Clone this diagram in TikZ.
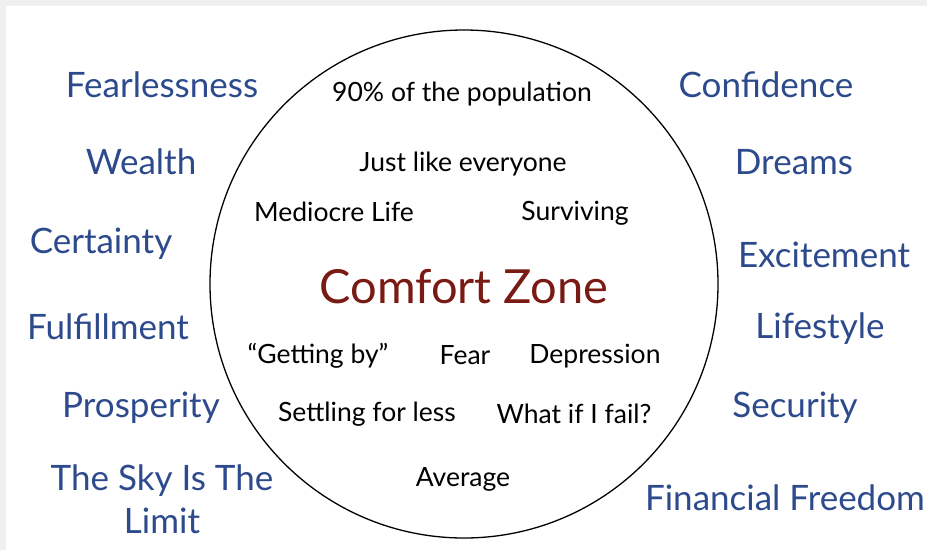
\documentclass[tikz,border=0pt]{standalone}
\usepackage{fontspec}
\setmainfont{Lato}
\definecolor{zoneblue}{HTML}{2D4A8C}
\definecolor{zonered}{HTML}{7A1A14}
\definecolor{edgegray}{HTML}{EFEFEF}
\tikzset{
    goal/.style={text=zoneblue, font=\fontsize{35}{43}\selectfont, align=center, inner sep=0pt},
    habit/.style={text=black, font=\fontsize{26.5}{30}\selectfont, inner sep=0pt},
    zonetitle/.style={text=zonered, font=\fontsize{47}{50}\selectfont, inner sep=0pt}
}
\begin{document}
\begin{tikzpicture}[x=1pt, y=-1pt]
    \useasboundingbox (0,0) rectangle (927,550);
    \fill[edgegray] (0,0) rectangle (927,6);
    \fill[edgegray] (0,0) rectangle (6,550);
    \draw[line width=1.3pt] (464,284) circle[radius=254];
    \node[zonetitle] (title) at (464,287) {Comfort Zone};
    \node[habit] (population) at (462,94) {90\% of the population};
    \node[habit] (everyone) at (463,164) {Just like everyone};
    \node[habit] (mediocre) at (334,212) {Mediocre Life};
    \node[habit] (surviving) at (575,213) {Surviving};
    \node[habit] (gettingby) at (318,356) {“Getting by”};
    \node[habit] (fear) at (465,355) {Fear};
    \node[habit] (depression) at (595,356) {Depression};
    \node[habit] (settling) at (367,414) {Settling for less};
    \node[habit] (whatif) at (574,414) {What if I fail?};
    \node[habit] (average) at (463,479) {Average};
    \node[goal] (fearless) at (162,85) {Fearlessness};
    \node[goal] (wealth) at (141,162) {Wealth};
    \node[goal] (certainty) at (101,244) {Certainty};
    \node[goal] (fulfil) at (108,327) {Fulfillment};
    \node[goal] (prosperity) at (141,408) {Prosperity};
    \node[goal] (sky) at (162,499) {The Sky Is The\\Limit};
    \node[goal] (confidence) at (766,85) {Confidence};
    \node[goal] (dreams) at (794,162) {Dreams};
    \node[goal] (excitement) at (824,255) {Excitement};
    \node[goal] (lifestyle) at (820,329) {Lifestyle};
    \node[goal] (security) at (795,408) {Security};
    \node[goal] (freedom) at (785,498) {Financial Freedom};
\end{tikzpicture}
\end{document}
